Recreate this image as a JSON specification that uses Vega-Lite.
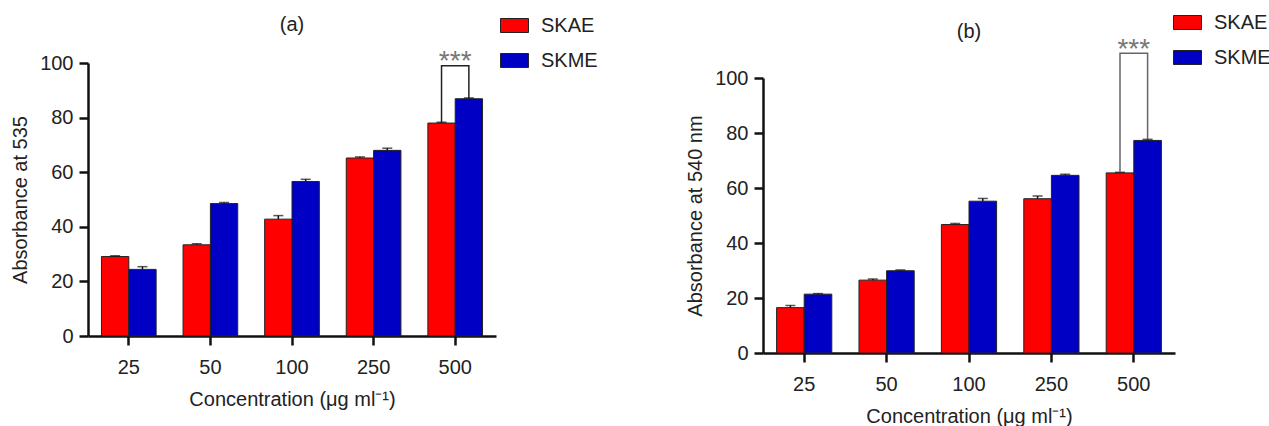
{
  "$schema": "https://vega.github.io/schema/vega-lite/v6.json",
  "padding": {"left": 10, "top": 8, "right": 0, "bottom": 0},
  "background": "white",
  "datasets": {
    "a": [
      {"conc": "25", "group": "SKAE", "value": 29.1, "hi": 29.4},
      {"conc": "50", "group": "SKAE", "value": 33.4, "hi": 33.8},
      {"conc": "100", "group": "SKAE", "value": 42.8, "hi": 44.1},
      {"conc": "250", "group": "SKAE", "value": 65.2, "hi": 65.6},
      {"conc": "500", "group": "SKAE", "value": 78.0, "hi": 78.3},
      {"conc": "25", "group": "SKME", "value": 24.4, "hi": 25.4},
      {"conc": "50", "group": "SKME", "value": 48.5, "hi": 48.9},
      {"conc": "100", "group": "SKME", "value": 56.6, "hi": 57.4},
      {"conc": "250", "group": "SKME", "value": 68.0, "hi": 68.8},
      {"conc": "500", "group": "SKME", "value": 86.9, "hi": 87.2}
    ],
    "b": [
      {"conc": "25", "group": "SKAE", "value": 16.5, "hi": 17.3},
      {"conc": "50", "group": "SKAE", "value": 26.5, "hi": 26.9},
      {"conc": "100", "group": "SKAE", "value": 46.7, "hi": 47.1},
      {"conc": "250", "group": "SKAE", "value": 56.1, "hi": 57.1},
      {"conc": "500", "group": "SKAE", "value": 65.5, "hi": 65.7},
      {"conc": "25", "group": "SKME", "value": 21.4, "hi": 21.6},
      {"conc": "50", "group": "SKME", "value": 29.9, "hi": 30.2},
      {"conc": "100", "group": "SKME", "value": 55.2, "hi": 56.2},
      {"conc": "250", "group": "SKME", "value": 64.6, "hi": 65.0},
      {"conc": "500", "group": "SKME", "value": 77.3, "hi": 77.7}
    ],
    "bracketA": [
      {"conc": "500", "group": "SKAE", "y": 78.3, "ord": 1},
      {"conc": "500", "group": "SKAE", "y": 99, "ord": 2},
      {"conc": "500", "group": "SKME", "y": 99, "ord": 3},
      {"conc": "500", "group": "SKME", "y": 87.2, "ord": 4}
    ],
    "bracketB": [
      {"conc": "500", "group": "SKAE", "y": 65.7, "ord": 1},
      {"conc": "500", "group": "SKAE", "y": 109, "ord": 2},
      {"conc": "500", "group": "SKME", "y": 109, "ord": 3},
      {"conc": "500", "group": "SKME", "y": 77.7, "ord": 4}
    ],
    "starsA": [{"conc": "500", "y": 103, "label": "***"}],
    "starsB": [{"conc": "500", "y": 112.8, "label": "***"}]
  },
  "hconcat": [
    {
      "width": 408,
      "height": 290,
      "title": {"text": "(a)", "offset": -24},
      "layer": [
        {
          "data": {"name": "a"},
          "mark": {"type": "bar", "stroke": "#222", "strokeWidth": 1},
          "encoding": {
            "x": {"field": "conc", "type": "nominal", "sort": ["25", "50", "100", "250", "500"], "scale": {"paddingInner": 0.33, "paddingOuter": 0.165}, "axis": {"offset": -17}, "title": "Concentration (μg ml⁻¹)"},
            "xOffset": {"field": "group", "type": "nominal", "scale": {"paddingInner": 0, "paddingOuter": 0}},
            "y": {"field": "value", "type": "quantitative", "scale": {"domain": [0, 100], "nice": false, "range": [273, 0]}, "axis": {"values": [0, 20, 40, 60, 80, 100]}, "title": "Absorbance at 535"},
            "color": {"field": "group", "type": "nominal", "scale": {"domain": ["SKAE", "SKME"], "range": ["#ff0000", "#0000c4"]},
              "legend": {"title": null, "orient": "none", "legendX": 412, "legendY": -52}}
          }
        },
        {
          "data": {"name": "a"},
          "mark": {"type": "rule", "color": "#111", "strokeWidth": 1.5},
          "encoding": {
            "x": {"field": "conc", "type": "nominal", "sort": ["25", "50", "100", "250", "500"]},
            "xOffset": {"field": "group", "type": "nominal"},
            "y": {"field": "value", "type": "quantitative"},
            "y2": {"field": "hi"}
          }
        },
        {
          "data": {"name": "a"},
          "mark": {"type": "tick", "color": "#111", "orient": "horizontal", "size": 10, "thickness": 1.5},
          "encoding": {
            "x": {"field": "conc", "type": "nominal", "sort": ["25", "50", "100", "250", "500"]},
            "xOffset": {"field": "group", "type": "nominal"},
            "y": {"field": "hi", "type": "quantitative"}
          }
        },
        {
          "data": {"name": "bracketA"},
          "mark": {"type": "line", "color": "#222", "strokeWidth": 1.5},
          "encoding": {
            "x": {"field": "conc", "type": "nominal", "sort": ["25", "50", "100", "250", "500"]},
            "xOffset": {"field": "group", "type": "nominal"},
            "y": {"field": "y", "type": "quantitative"},
            "order": {"field": "ord", "type": "quantitative"}
          }
        },
        {
          "data": {"name": "starsA"},
          "mark": {"type": "text", "color": "#777", "fontSize": 28, "baseline": "middle", "dy": 7},
          "encoding": {
            "x": {"field": "conc", "type": "nominal", "sort": ["25", "50", "100", "250", "500"]},
            "y": {"field": "y", "type": "quantitative"},
            "text": {"field": "label"}
          }
        }
      ]
    },
    {
      "width": 412,
      "height": 290,
      "title": {"text": "(b)", "offset": -34},
      "layer": [
        {
          "data": {"name": "b"},
          "mark": {"type": "bar", "stroke": "#222", "strokeWidth": 1},
          "encoding": {
            "x": {"field": "conc", "type": "nominal", "sort": ["25", "50", "100", "250", "500"], "scale": {"paddingInner": 0.33, "paddingOuter": 0.165}, "title": "Concentration (μg ml⁻¹)"},
            "xOffset": {"field": "group", "type": "nominal", "scale": {"paddingInner": 0, "paddingOuter": 0}},
            "y": {"field": "value", "type": "quantitative", "scale": {"domain": [0, 100], "nice": false, "range": [290, 15]}, "axis": {"values": [0, 20, 40, 60, 80, 100]}, "title": "Absorbance at 540 nm"},
            "color": {"field": "group", "type": "nominal", "scale": {"domain": ["SKAE", "SKME"], "range": ["#ff0000", "#0000c4"]},
              "legend": {"title": null, "orient": "none", "legendX": 410, "legendY": -55}}
          }
        },
        {
          "data": {"name": "b"},
          "mark": {"type": "rule", "color": "#111", "strokeWidth": 1.5},
          "encoding": {
            "x": {"field": "conc", "type": "nominal", "sort": ["25", "50", "100", "250", "500"]},
            "xOffset": {"field": "group", "type": "nominal"},
            "y": {"field": "value", "type": "quantitative"},
            "y2": {"field": "hi"}
          }
        },
        {
          "data": {"name": "b"},
          "mark": {"type": "tick", "color": "#111", "orient": "horizontal", "size": 10, "thickness": 1.5},
          "encoding": {
            "x": {"field": "conc", "type": "nominal", "sort": ["25", "50", "100", "250", "500"]},
            "xOffset": {"field": "group", "type": "nominal"},
            "y": {"field": "hi", "type": "quantitative"}
          }
        },
        {
          "data": {"name": "bracketB"},
          "mark": {"type": "line", "color": "#666", "strokeWidth": 1.5},
          "encoding": {
            "x": {"field": "conc", "type": "nominal", "sort": ["25", "50", "100", "250", "500"]},
            "xOffset": {"field": "group", "type": "nominal"},
            "y": {"field": "y", "type": "quantitative"},
            "order": {"field": "ord", "type": "quantitative"}
          }
        },
        {
          "data": {"name": "starsB"},
          "mark": {"type": "text", "color": "#777", "fontSize": 28, "baseline": "middle", "dy": 7},
          "encoding": {
            "x": {"field": "conc", "type": "nominal", "sort": ["25", "50", "100", "250", "500"]},
            "y": {"field": "y", "type": "quantitative"},
            "text": {"field": "label"}
          }
        }
      ]
    }
  ],
  "spacing": 87,
  "resolve": {"scale": {"color": "independent", "x": "independent", "y": "independent", "xOffset": "independent"}, "legend": {"color": "independent"}},
  "config": {
    "font": "Liberation Sans, Arial, sans-serif",
    "view": {"stroke": null},
    "axis": {
      "grid": false,
      "domainColor": "#111",
      "domainWidth": 2.5,
      "tickColor": "#111",
      "tickWidth": 2.5,
      "tickSize": 9,
      "labelColor": "#222",
      "labelFontSize": 20,
      "titleColor": "#222",
      "titleFontSize": 20,
      "titleFontWeight": "normal"
    },
    "axisX": {"labelAngle": 0, "labelPadding": 12, "titlePadding": 12},
    "axisY": {"labelPadding": 6, "titlePadding": 9},
    "legend": {
      "symbolType": "M-1,-0.5H1V0.5H-1Z",
      "symbolSize": 784,
      "symbolStrokeColor": "#222",
      "symbolStrokeWidth": 1,
      "symbolOpacity": 1,
      "labelFontSize": 20,
      "labelColor": "#222",
      "labelOffset": 12,
      "rowPadding": 10
    },
    "title": {"fontSize": 20, "fontWeight": "normal", "color": "#222"}
  }
}
